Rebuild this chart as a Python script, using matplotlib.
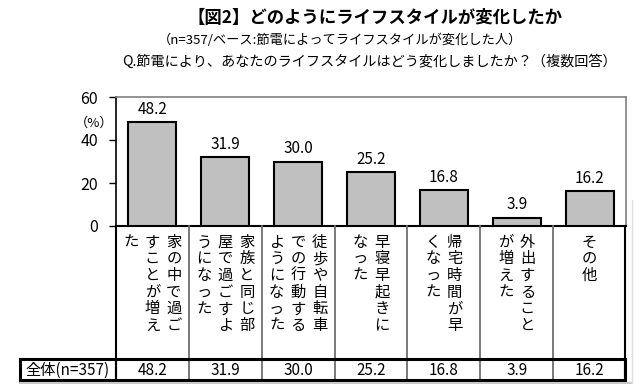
import matplotlib
matplotlib.use("Agg")
import matplotlib.pyplot as plt

plt.rcParams['font.family'] = ['Noto Sans CJK JP', 'DejaVu Sans']

# -------------------------------
# Data
# -------------------------------
categories = [
    "家の中で過ごすことが増えた",
    "家族と同じ部屋で過ごすようになった",
    "徒歩や自転車での行動するようになった",
    "早寝早起きになった",
    "帰宅時間が早くなった",
    "外出することが増えた",
    "その他",
]
values = [48.2, 31.9, 30.0, 25.2, 16.8, 3.9, 16.2]
yticks = [0, 20, 40, 60]
row_label = "全体(n=357)"

title1 = "【図2】どのようにライフスタイルが変化したか"
title2 = "（n=357/ベース:節電によってライフスタイルが変化した人）"
title3 = "Q.節電により、あなたのライフスタイルはどう変化しましたか？（複数回答）"

# -------------------------------
# Layout (pixels)
# -------------------------------
W, H = 640, 384
plot_l, plot_r = 116, 626
plot_t, plot_b = 97, 226
table_l = 20
row_t, row_b = 359, 380
chars_per_col = 6
char_dy = 16.7
col_dx = 21.5

fig = plt.figure(figsize=(W / 100, H / 100), dpi=100)

ax = fig.add_axes([plot_l / W, 1 - plot_b / H, (plot_r - plot_l) / W, (plot_b - plot_t) / H])
x = range(len(values))
ax.bar(x, values, width=0.66, color="#c0c0c0", edgecolor="black", linewidth=1.5, zorder=3)
for i, v in enumerate(values):
    ax.annotate(f"{v:.1f}", (i, v), xytext=(0, 3), textcoords="offset points",
                ha="center", va="bottom", fontsize=11)
ax.set_xlim(-0.5, len(values) - 0.5)
ax.set_ylim(0, 60)
ax.set_yticks(yticks)
ax.set_yticklabels([str(t) for t in yticks], fontsize=11.5)
ax.set_xticks([])
ax.tick_params(axis="y", length=5, width=1, pad=8)
for side in ["top", "right"]:
    ax.spines[side].set_color("#808080")
    ax.spines[side].set_linewidth(1.2)
ax.spines["left"].set_color("black")
ax.spines["left"].set_linewidth(1.2)
ax.spines["bottom"].set_color("black")
ax.spines["bottom"].set_linewidth(1.5)
ax.text(-0.005, 0.8, "（%）", transform=ax.transAxes, ha="right", va="center", fontsize=9.5)

# overlay in pixel units for titles and the table
ov = fig.add_axes([0, 0, 1, 1])
ov.set_xlim(0, W)
ov.set_ylim(H, 0)
ov.axis("off")

ov.text(375, 18, title1, ha="center", va="center", fontsize=12.5, fontweight="bold")
ov.text(340, 40, title2, ha="center", va="center", fontsize=9.5)
ov.text(369, 62, title3, ha="center", va="center", fontsize=10.2)

col_w = (plot_r - plot_l) / len(categories)
# label cells
ov.plot([plot_l, plot_l], [plot_b, row_b], color="black", lw=1.5)
ov.plot([plot_r - 1, plot_r - 1], [plot_b, row_b], color="black", lw=1.5)
for i in range(1, len(categories)):
    xx = plot_l + i * col_w
    ov.plot([xx, xx], [plot_b, row_b], color="#707070", lw=1.3)

for i, label in enumerate(categories):
    cx = plot_l + (i + 0.5) * col_w
    cols = [label[k:k + chars_per_col] for k in range(0, len(label), chars_per_col)]
    n = len(cols)
    for j, col in enumerate(cols):
        colx = cx + ((n - 1) / 2 - j) * col_dx
        for k, ch in enumerate(col):
            ov.text(colx, 242 + k * char_dy, ch, ha="center", va="center", fontsize=11)

# data row
ov.plot([table_l, plot_r - 1, plot_r - 1, table_l, table_l],
        [row_t, row_t, row_b, row_b, row_t], color="black", lw=2.2, solid_joinstyle="miter")
ov.plot([plot_l, plot_l], [row_t, row_b], color="black", lw=1.5)
ov.text(table_l + 5, (row_t + row_b) / 2 + 1, row_label, ha="left", va="center", fontsize=11)
for i, v in enumerate(values):
    cx = plot_l + (i + 0.5) * col_w
    ov.text(cx, (row_t + row_b) / 2 + 1, f"{v:.1f}", ha="center", va="center", fontsize=11)

# faint frame at the image edge
ov.plot([table_l, 632], [383, 383], color="#c8c8c8", lw=1.5)
ov.plot([632, 632], [200, 383], color="#e0e0e0", lw=1)

fig.savefig("out.png", dpi=100)
